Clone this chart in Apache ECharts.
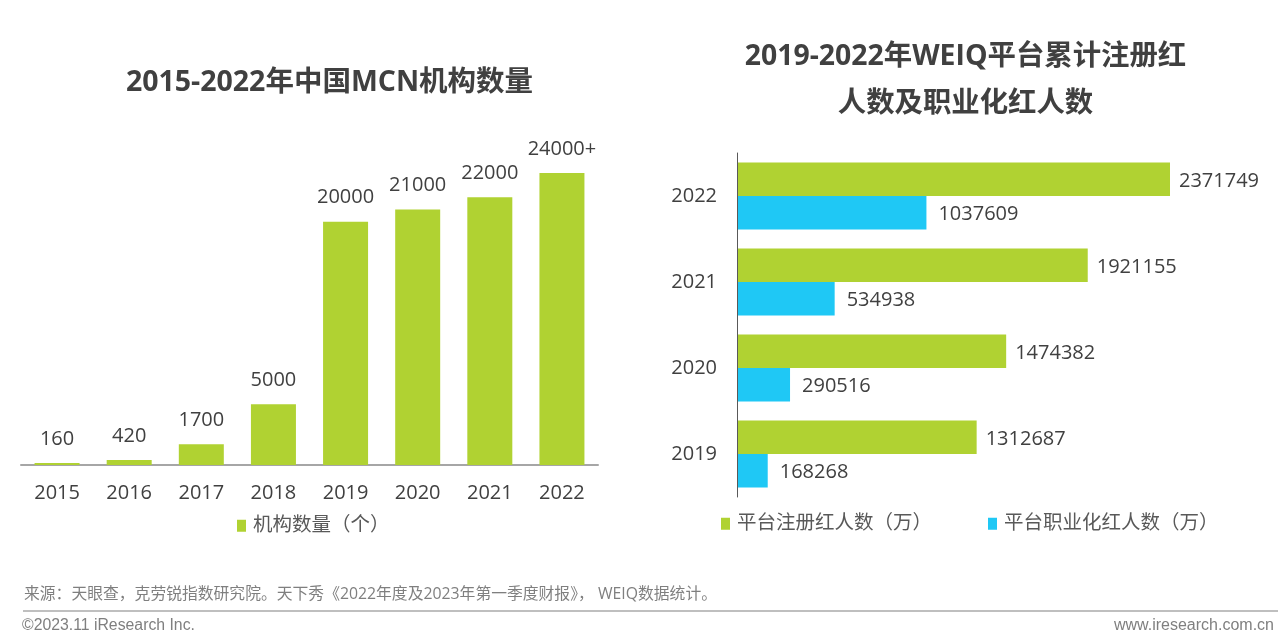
<!DOCTYPE html>
<html>
<head>
<meta charset="utf-8">
<style>
  html, body { margin: 0; padding: 0; background: #fff; }
  #main { width: 1280px; height: 643px; }
</style>
<script src="https://cdn.jsdelivr.net/npm/echarts@6/dist/echarts.min.js"></script>
</head>
<body>
<div id="main"></div>
<script>
var mcnYears = ['2015', '2016', '2017', '2018', '2019', '2020', '2021', '2022'];
var mcnValues = [160, 420, 1700, 5000, 20000, 21000, 22000, 24000];
var mcnLabels = ['160', '420', '1700', '5000', '20000', '21000', '22000', '24000+'];

var weiqYears = ['2022', '2021', '2020', '2019'];
var registered = [2371749, 1921155, 1474382, 1312687];
var professional = [1037609, 534938, 290516, 168268];

var GREEN = '#b0d232';
var BLUE = '#1fc8f5';
var CJK = '"Open Sans", "Noto Sans CJK SC", sans-serif';
var LATIN = '"Liberation Sans", Arial, sans-serif';
var TEXT = '#404040';

var chart = echarts.init(document.getElementById('main'), null, { renderer: 'canvas' });

var option = {
  backgroundColor: '#ffffff',
  animation: false,
  title: [
    {
      text: '2015-2022年中国MCN机构数量',
      left: 329.5, top: 59, textAlign: 'center', padding: 0,
      textStyle: { fontFamily: CJK, fontSize: 28.5, fontWeight: 'bold', color: TEXT, lineHeight: 48 }
    },
    {
      text: '2019-2022年WEIQ平台累计注册红\n人数及职业化红人数',
      left: 965.5, top: 33, textAlign: 'center', padding: 0,
      textStyle: { fontFamily: CJK, fontSize: 28.4, fontWeight: 'bold', color: TEXT, lineHeight: 47 }
    },
    {
      text: '来源：天眼查，克劳锐指数研究院。天下秀《2022年度及2023年第一季度财报》， WEIQ数据统计。',
      left: 24, top: 587, padding: 0,
      textStyle: { fontFamily: CJK, fontSize: 15.8, fontWeight: 'normal', color: '#7f7f7f' }
    },
    {
      text: '©2023.11 iResearch Inc.',
      left: 22, top: 618, padding: 0,
      textStyle: { fontFamily: LATIN, fontSize: 15.8, fontWeight: 'normal', color: '#7f7f7f' }
    },
    {
      text: 'www.iresearch.com.cn',
      right: 6, top: 618, padding: 0,
      textStyle: { fontFamily: LATIN, fontSize: 16, fontWeight: 'normal', color: '#7f7f7f' }
    }
  ],
  legend: [
    {
      data: ['机构数量（个）'],
      left: 237, top: 516, padding: 0,
      icon: 'rect', itemWidth: 9, itemHeight: 12, itemGap: 30,
      textStyle: { fontFamily: CJK, fontSize: 19.5, color: '#595959', padding: [0, 0, 0, 2] }
    },
    {
      data: ['平台注册红人数（万）', '平台职业化红人数（万）'],
      left: 721, top: 514, padding: 0,
      icon: 'rect', itemWidth: 9, itemHeight: 12, itemGap: 56,
      textStyle: { fontFamily: CJK, fontSize: 19.5, color: '#595959', padding: [0, 0, 0, 2] }
    }
  ],
  grid: [
    { left: 21, top: 173, width: 577, height: 292 },
    { left: 737, top: 153, width: 433, height: 344 }
  ],
  xAxis: [
    {
      type: 'category', gridIndex: 0, data: mcnYears,
      axisLine: { lineStyle: { color: '#a6a6a6', width: 2 } },
      axisTick: { show: false },
      axisLabel: { fontFamily: CJK, fontSize: 20, color: TEXT, margin: 18 }
    },
    {
      type: 'value', gridIndex: 1, min: 0, max: 2371749,
      show: false, splitLine: { show: false }
    }
  ],
  yAxis: [
    {
      type: 'value', gridIndex: 0, min: 0, max: 24000,
      show: false, splitLine: { show: false }
    },
    {
      type: 'category', gridIndex: 1, data: weiqYears, inverse: true, z: 5,
      axisLine: { lineStyle: { color: '#595959', width: 1 } },
      axisTick: { show: false },
      axisLabel: { fontFamily: CJK, fontSize: 20, color: TEXT, margin: 20 }
    }
  ],
  series: [
    {
      name: '机构数量（个）', type: 'bar', xAxisIndex: 0, yAxisIndex: 0,
      data: mcnValues, barWidth: 45,
      itemStyle: { color: GREEN },
      label: {
        show: true, position: 'top', distance: 14,
        fontFamily: CJK, fontSize: 20, color: TEXT,
        formatter: function (p) { return mcnLabels[p.dataIndex]; }
      }
    },
    {
      name: '平台注册红人数（万）', type: 'bar', xAxisIndex: 1, yAxisIndex: 1,
      data: registered, barWidth: 33.5, barGap: 0,
      itemStyle: { color: GREEN },
      label: { show: true, position: 'right', distance: 9, offset: [0, 2], fontFamily: CJK, fontSize: 20, color: TEXT }
    },
    {
      name: '平台职业化红人数（万）', type: 'bar', xAxisIndex: 1, yAxisIndex: 1,
      data: professional, barWidth: 33.5, barGap: 0,
      itemStyle: { color: BLUE },
      label: { show: true, position: 'right', distance: 12, offset: [0, 2], fontFamily: CJK, fontSize: 20, color: TEXT }
    }
  ],
  graphic: [
    {
      type: 'line',
      shape: { x1: 23, y1: 611, x2: 1278, y2: 611 },
      style: { stroke: '#bfbfbf', lineWidth: 2 }
    }
  ]
};

chart.setOption(option);
</script>
</body>
</html>
